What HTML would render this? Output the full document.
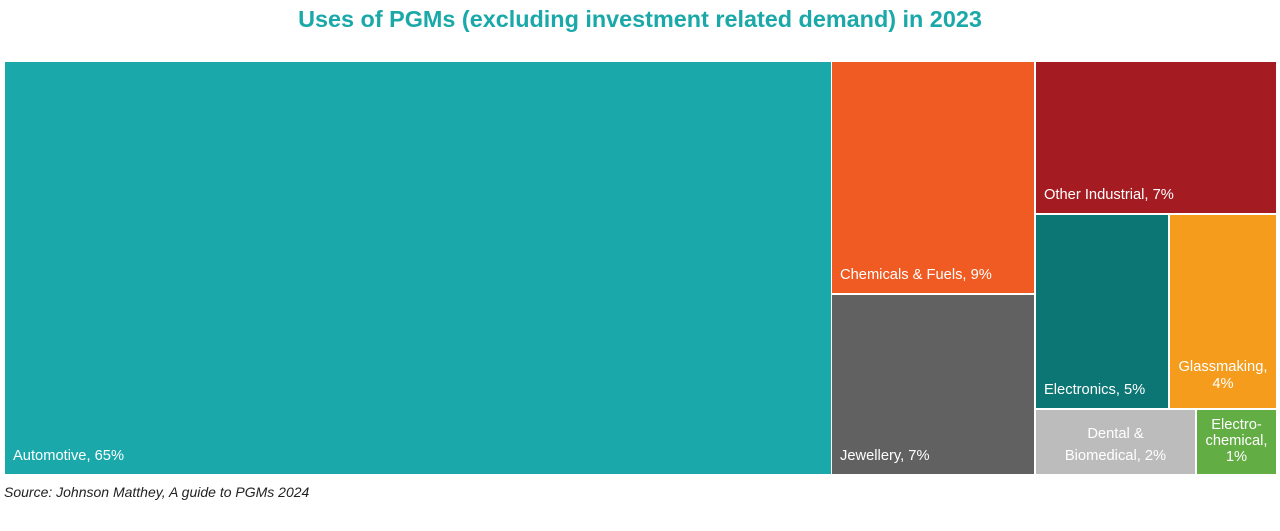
<!DOCTYPE html>
<html><head><style>
body{margin:0;width:1280px;height:531px;background:#fff;position:relative;font-family:"Liberation Sans",Arial,sans-serif;overflow:hidden}
.t{position:absolute;top:6px;left:0;width:1280px;text-align:center;color:#1aa8a9;font-weight:bold;font-size:23.4px}
.b{position:absolute;color:#fff;font-size:14.7px;box-sizing:border-box}
.l{position:absolute;left:8px;bottom:10px;white-space:nowrap}
.c{position:absolute;left:0;right:0;text-align:center;line-height:16px}
.s{position:absolute;left:4px;top:484px;font-size:14px;font-style:italic;color:#222}
</style></head><body>
<div class="t">Uses of PGMs (excluding investment related demand) in 2023</div>
<div class="b" style="left:5px;top:62px;width:826px;height:412px;background:#1aa8ab"><span class="l">Automotive, 65%</span></div>
<div class="b" style="left:832px;top:62px;width:202px;height:231px;background:#ef5b22"><span class="l">Chemicals &amp; Fuels, 9%</span></div>
<div class="b" style="left:832px;top:295px;width:202px;height:179px;background:#616161"><span class="l">Jewellery, 7%</span></div>
<div class="b" style="left:1036px;top:62px;width:240px;height:151px;background:#a41c22"><span class="l">Other Industrial, 7%</span></div>
<div class="b" style="left:1036px;top:215px;width:132px;height:193px;background:#0c7674"><span class="l">Electronics, 5%</span></div>
<div class="b" style="left:1170px;top:215px;width:106px;height:193px;background:#f59c1d"><div class="c" style="top:144px;line-height:17px">Glassmaking,<br>4%</div></div>
<div class="b" style="left:1036px;top:410px;width:159px;height:64px;background:#bdbcbc"><div class="c" style="top:13px;line-height:22px">Dental &amp;<br>Biomedical, 2%</div></div>
<div class="b" style="left:1197px;top:410px;width:79px;height:64px;background:#62ad44"><div class="c" style="top:7px">Electro-<br>chemical,<br>1%</div></div>
<div class="s">Source: Johnson Matthey, A guide to PGMs 2024</div>
</body></html>
